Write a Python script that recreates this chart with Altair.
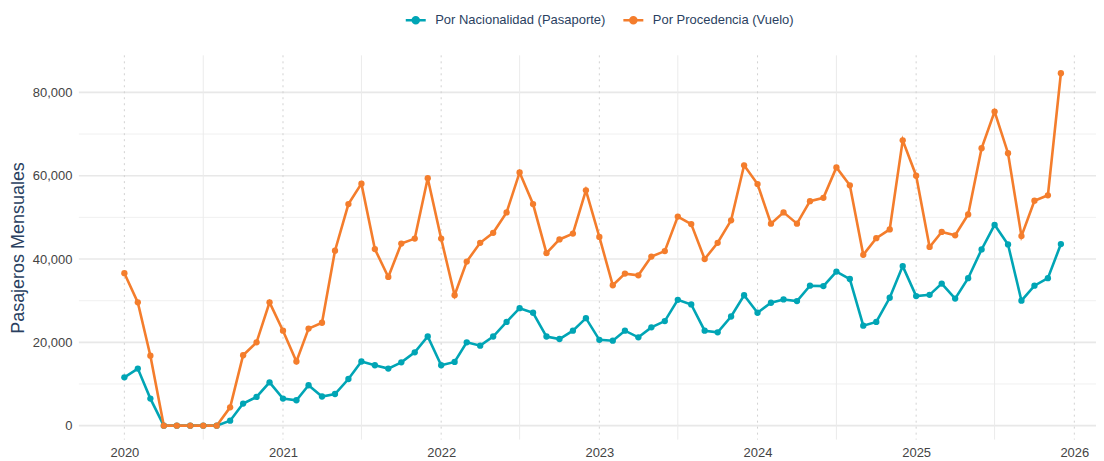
import altair as alt
import pandas as pd

# ---- data ----
years = [2020, 2021, 2022, 2023, 2024, 2025]
month_nums = list(range(1, 13))

nacionalidad = [
    11600, 13700, 6500, 0, 0, 0, 0, 0, 1200, 5300, 6900, 10400,
    6500, 6100, 9700, 7000, 7600, 11200, 15400, 14500, 13700, 15200, 17600, 21400,
    14500, 15300, 20000, 19200, 21400, 24900, 28200, 27100, 21400, 20800, 22800, 25800,
    20600, 20400, 22800, 21200, 23600, 25100, 30200, 29100, 22800, 22400, 26200, 31300,
    27100, 29500, 30300, 29900, 33600, 33500, 37000, 35200, 24000, 24900, 30700, 38300,
    31100, 31400, 34100, 30500, 35400, 42300, 48200, 43500, 30000, 33600, 35400, 43600,
]
procedencia = [
    36600, 29600, 16800, 0, 0, 0, 0, 0, 4400, 16900, 20000, 29600,
    22800, 15400, 23300, 24700, 42000, 53200, 58100, 42400, 35700, 43700, 44900, 59400,
    44900, 31300, 39400, 43900, 46300, 51200, 60800, 53200, 41400, 44700, 46100, 56500,
    45300, 33700, 36500, 36100, 40600, 41900, 50200, 48400, 40000, 43900, 49300, 62500,
    58000, 48500, 51200, 48500, 53900, 54700, 62000, 57700, 41000, 45000, 47100, 68500,
    60000, 42900, 46500, 45700, 50700, 66600, 75400, 65400, 45500, 54000, 55300, 84600,
]
series_names = ["Por Nacionalidad (Pasaporte)", "Por Procedencia (Vuelo)"]
series_colors = ["#00A5B5", "#F47D2C"]

y_major = [0, 20000, 40000, 60000, 80000]
y_minor = [10000, 30000, 50000, 70000]
year_lines = ["2020/01/01", "2021/01/01", "2022/01/01", "2023/01/01",
              "2024/01/01", "2025/01/01", "2026/01/01"]
mid_lines = ["2020/07/01", "2021/07/01", "2022/07/01", "2023/07/01",
             "2024/07/01", "2025/07/01"]

# ---- tables ----
dates = [f"{y}/{m:02d}/01" for y in years for m in month_nums]
df = pd.DataFrame({
    "fecha": dates * 2,
    "valor": nacionalidad + procedencia,
    "serie": [series_names[0]] * len(dates) + [series_names[1]] * len(dates),
    "orden": [0] * len(dates) + [1] * len(dates),
})

FONT = "Liberation Sans"

x_scale = alt.Scale(domain=[alt.DateTime(year=2019, month=9, date=18),
                            alt.DateTime(year=2026, month=2, date=20)])
y_scale = alt.Scale(domain=[-3350, 88900], nice=False, zero=False)

x_axis = alt.Axis(values=[alt.DateTime(year=y, month=1, date=1) for y in range(2020, 2027)],
                  format="%Y", title=None, grid=False, domain=False, ticks=False,
                  tickSize=0, labelFontSize=13, labelColor="#444444", labelFont=FONT,
                  labelPadding=7)
y_axis = alt.Axis(values=y_major, format=",.0f", title="Pasajeros Mensuales",
                  grid=False, domain=False, ticks=False, tickSize=0,
                  labelFontSize=13, labelColor="#444444", labelFont=FONT,
                  labelPadding=7, titleFontSize=18, titleFont=FONT,
                  titleFontWeight="normal", titleColor="#2a3f5f", titlePadding=5)

x_enc = alt.X("fecha:T", scale=x_scale, axis=x_axis)
y_enc = alt.Y("valor:Q", scale=y_scale, axis=y_axis)

hmaj = alt.Chart(pd.DataFrame({"v": y_major})).mark_rule(color="#E8E8E8", strokeWidth=1.6).encode(
    y=alt.Y("v:Q", scale=y_scale, axis=y_axis))
hmin = alt.Chart(pd.DataFrame({"v": y_minor})).mark_rule(color="#F0F0F0", strokeWidth=1).encode(
    y=alt.Y("v:Q", scale=y_scale, axis=y_axis))
vyear = alt.Chart(pd.DataFrame({"d": year_lines})).mark_rule(
    color="#D2D2D2", strokeWidth=1, strokeDash=[2, 4]).encode(
    x=alt.X("d:T", scale=x_scale, axis=x_axis))
vmid = alt.Chart(pd.DataFrame({"d": mid_lines})).mark_rule(color="#EBEBEB", strokeWidth=1).encode(
    x=alt.X("d:T", scale=x_scale, axis=x_axis))

color_enc = alt.Color("serie:N",
                      scale=alt.Scale(domain=series_names, range=series_colors),
                      legend=alt.Legend(title=None, orient="none", direction="horizontal",
                                        legendX=326, legendY=-47, labelFontSize=13,
                                        labelColor="#2a3f5f", labelFont=FONT, labelLimit=400,
                                        symbolType="M-1,0L1,0M-0.3,0a0.3,0.3 0 1,0 0.6,0a0.3,0.3 0 1,0 -0.6,0",
                                        symbolSize=400, symbolStrokeWidth=2.5,
                                        columnPadding=12, labelOffset=8))

lines = alt.Chart(df).mark_line(strokeWidth=2.6).encode(
    x=x_enc, y=y_enc, color=color_enc, order=alt.Order("orden:Q"),
    detail="serie:N")
points = alt.Chart(df).mark_point(filled=True, size=40, opacity=1).encode(
    x=x_enc, y=y_enc, color=color_enc, order=alt.Order("orden:Q"))

chart = alt.layer(hmin, hmaj, vmid, vyear, lines, points).properties(
    width=1019, height=385,
    autosize=alt.AutoSizeParams(type="none"),
    padding={"left": 71, "top": 47, "right": 0, "bottom": 20},
).configure(font=FONT).configure_view(strokeWidth=0, stroke="transparent")

chart.save("out.html", embed_options={"renderer": "svg", "actions": False})
